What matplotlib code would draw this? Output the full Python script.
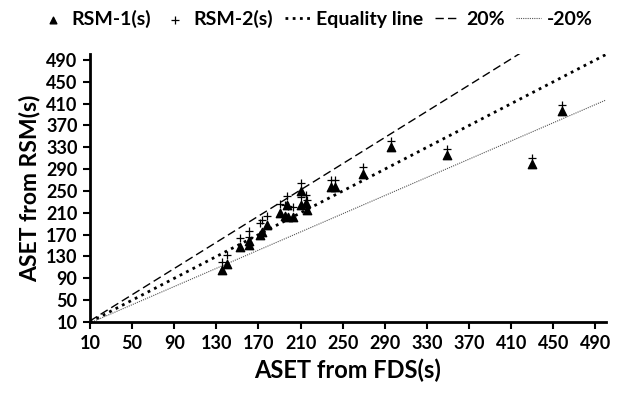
import numpy as np
import matplotlib.pyplot as plt

# ASET values (seconds)
aset_fds = [135, 140, 152, 161, 161, 171, 173, 178, 190, 195, 198, 203,
            197, 210, 210, 215, 216, 239, 243, 269, 296, 349, 430, 458]
rsm1 = [105, 117, 147, 151, 158, 169, 175, 188, 210, 204, 203, 203,
        224, 250, 224, 228, 216, 257, 257, 282, 331, 316, 299, 396]
rsm2 = [120, 133, 163, 166, 177, 191, 197, 204, 227, 224, 222, 220,
        240, 265, 239, 242, 234, 271, 271, 294, 342, 326, 310, 407]

ticks = list(range(10, 491, 40))
lo, hi = 10, 500

plt.rcParams['font.family'] = ['Lato', 'DejaVu Sans']
plt.rcParams['font.weight'] = 'bold'

fig = plt.figure(figsize=(6.27, 3.94), dpi=100)
ax = fig.add_axes([0.1435, 0.1827, 0.823, 0.679])

ax.scatter(aset_fds, rsm1, marker='^', s=36, color='black', label='RSM-1(s)', zorder=3)
ax.scatter(aset_fds, rsm2, marker='+', s=40, color='black', linewidths=0.9, label='RSM-2(s)', zorder=3)

xs = np.array([lo, hi])
ax.plot(xs, xs, color='black', linestyle=(0, (1, 1.6)), lw=2, label='Equality line')
ax.plot(xs, xs * 1.2, color='black', linestyle=(0, (6, 3)), lw=1, label='20%')
ax.plot(xs, xs / 1.2, color='#555555', linestyle=(0, (1, 1)), lw=0.8, label='-20%')

ax.set_xlim(lo, hi)
ax.set_ylim(lo, hi)
ax.set_xticks(ticks)
ax.set_yticks(ticks)
for s in ['top', 'right']:
    ax.spines[s].set_visible(False)
for s in ['left', 'bottom']:
    ax.spines[s].set_linewidth(2)
ax.tick_params(direction='out', length=5, width=1.5, labelsize=13, pad=4)
ax.set_xlabel('ASET from FDS(s)', fontsize=17, fontweight='bold', labelpad=5)
ax.set_ylabel('ASET from RSM(s)', fontsize=16.5, fontweight='bold', labelpad=4)

fig.legend(loc='upper center', bbox_to_anchor=(0.505, 1.02), ncol=5, frameon=False,
           fontsize=14, handlelength=1.3, handletextpad=0.3, columnspacing=0.6,
           markerscale=0.8)

fig.savefig('out.png', dpi=100)
